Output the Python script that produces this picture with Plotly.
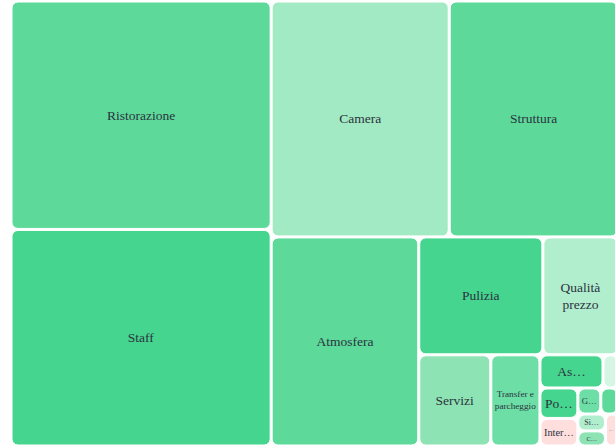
import plotly.graph_objects as go

labels = ["Ristorazione", "Staff", "Camera", "Struttura", "Atmosfera", "Pulizia",
          "Qualità<br>prezzo", "Servizi", "Transfer e<br>parcheggio", "As…", "",
          "Po…", "Inter…", "G…", "", "Si…", "C…", "P…"]
ids = ["Ristorazione", "Staff", "Camera", "Struttura", "Atmosfera", "Pulizia",
       "Qualità prezzo", "Servizi", "Transfer e parcheggio", "As", "x1",
       "Po", "Inter", "G", "x2", "Si", "C", "P"]
values = [59700, 56600, 42200, 40000, 31000, 14700, 8900, 6600, 4500, 2100, 500,
          1160, 1050, 600, 450, 470, 420, 400]
colors = ["#5dda9a", "#46d58e", "#a2eac3", "#5dda9a", "#5dda9a", "#46d58e",
          "#b1eecd", "#8de3b4", "#6ddea5", "#46d58e", "#d6f6e4",
          "#46d58e", "#ffdede", "#6ddea5", "#5dda9a", "#b1eecd", "#8de3b4", "#ffdede"]

fig = go.Figure(go.Treemap(
    ids=ids,
    labels=labels,
    parents=[""] * len(ids),
    values=values,
    sort=False,
    marker=dict(colors=colors, line=dict(color="white", width=1), cornerradius=6,
                pad=dict(t=0, l=0, r=0, b=0)),
    tiling=dict(pad=2),
    pathbar=dict(visible=False),
    textposition="middle center",
    textinfo="label",
    textfont=dict(family="Liberation Serif", size=13.5, color="#2b3340"),
    hoverinfo="label+value",
))
fig.update_layout(width=617, height=448, margin=dict(l=12, r=0, t=2, b=3),
                  paper_bgcolor="white")
fig.write_html("out.html", config={"displayModeBar": False},
               post_script="document.body.style.margin='0px';"
                           "document.body.style.overflow='hidden';")
